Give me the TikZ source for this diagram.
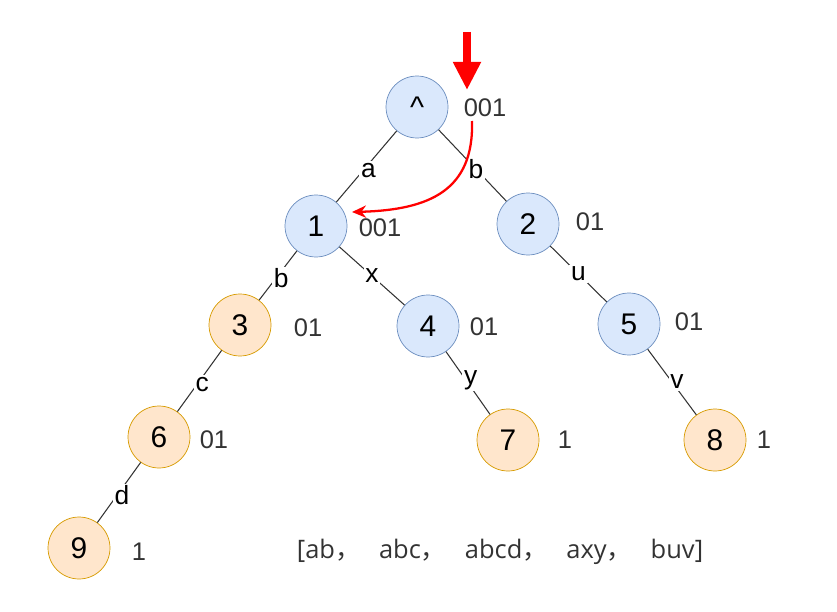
\documentclass[tikz,border=0pt]{standalone}
\usepackage{fontspec}
\setmainfont{Liberation Sans}
\newfontfamily\cjk{Noto Sans CJK SC}
\newfontfamily\listfont{Open Sans}
\usepackage{tikz}
\usetikzlibrary{arrows.meta}

\definecolor{blueFill}{HTML}{DAE8FC}
\definecolor{blueLine}{HTML}{6C8EBF}
\definecolor{orangeFill}{HTML}{FFE6CC}
\definecolor{orangeLine}{HTML}{D79B00}
\definecolor{edgeGray}{HTML}{333333}

\newcommand{\wsep}{{\cjk ，}\hspace{0.37cm}}

\tikzset{
    trienode/.style={circle, draw=blueLine, fill=blueFill, minimum size=1.24cm, inner sep=0pt, font=\fontsize{17}{20}\selectfont},
    leafnode/.style={trienode, draw=orangeLine, fill=orangeFill},
    countlab/.style={font=\fontsize{14.5}{17}\selectfont, text=edgeGray},
    edgelab/.style={fill=white, inner sep=1pt, xshift=0.1cm, font=\fontsize{15}{18}\selectfont},
    trieedge/.style={draw=edgeGray, line width=0.6pt}
}

\begin{document}
\begin{tikzpicture}[x=0.02cm, y=-0.02cm]
    \useasboundingbox (0,0) rectangle (837,611);

    % Nodes
    \node[trienode] (root) at (417,107) {\^{}};
    \node[trienode] (n1) at (316,226) {1};
    \node[trienode] (n2) at (528,224) {2};
    \node[leafnode] (n3) at (240,325) {3};
    \node[trienode] (n4) at (428,326) {4};
    \node[trienode] (n5) at (629,324) {5};
    \node[leafnode] (n6) at (159,437) {6};
    \node[leafnode] (n7) at (508,440) {7};
    \node[leafnode] (n8) at (715,440) {8};
    \node[leafnode] (n9) at (79,548) {9};

    % Edges
    \draw[trieedge] (root) -- node[edgelab, pos=0.55] {a} (n1);
    \draw[trieedge] (root) -- node[edgelab, pos=0.55, xshift=-0.1cm] {b} (n2);
    \draw[trieedge] (n1) -- node[edgelab, pos=0.55] {b} (n3);
    \draw[trieedge] (n1) -- node[edgelab, pos=0.5, xshift=-0.1cm] {x} (n4);
    \draw[trieedge] (n2) -- node[edgelab, pos=0.5, xshift=-0.1cm] {u} (n5);
    \draw[trieedge] (n3) -- node[edgelab, pos=0.55] {c} (n6);
    \draw[trieedge] (n4) -- node[edgelab, pos=0.45] {y} (n7);
    \draw[trieedge] (n5) -- node[edgelab, pos=0.5] {v} (n8);
    \draw[trieedge] (n6) -- node[edgelab, pos=0.55] {d} (n9);

    % Counts
    \node[countlab] (c0) at (485,108) {001};
    \node[countlab] (c1) at (380,228) {001};
    \node[countlab] (c2) at (590,222) {01};
    \node[countlab] (c3) at (308,328) {01};
    \node[countlab] (c4) at (484,327) {01};
    \node[countlab] (c5) at (689,322) {01};
    \node[countlab] (c6) at (214,440) {01};
    \node[countlab] (c7) at (565,440) {1};
    \node[countlab] (c8) at (764,440) {1};
    \node[countlab] (c9) at (139,552) {1};

    % Pointer
    \coordinate (ptop) at (467,32);
    \coordinate (ptip) at (467,90);
    \draw[red, line width=4pt, -{Triangle[length=16pt, width=15pt]}] (ptop) -- (ptip);
    \coordinate (cstart) at (472,121);
    \coordinate (cend) at (352,212);
    \draw[red, line width=1.3pt, -{Stealth[length=8pt, width=7pt]}] (cstart) .. controls (474,190) and (430,210) .. (cend);

    % Word list
    \node[font=\listfont\fontsize{14.5}{17}\selectfont, text=edgeGray] (words) at (500,552) {[ab\wsep abc\wsep abcd\wsep axy\wsep buv]};
\end{tikzpicture}
\end{document}
